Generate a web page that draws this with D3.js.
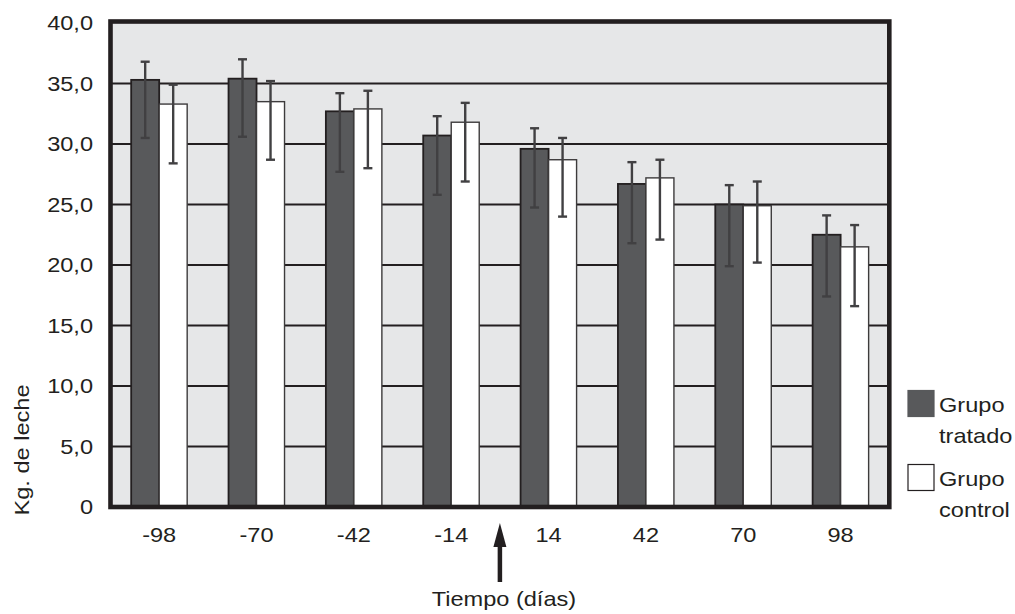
<!DOCTYPE html>
<html>
<head>
<meta charset="utf-8">
<script src="https://cdn.jsdelivr.net/npm/d3@7"></script>
<style>
  body { margin: 0; background: #fff; }
  svg text { font-family: "Liberation Sans", Arial, sans-serif; font-size: 20.5px; fill: #231f20; }
</style>
</head>
<body>
<div id="chart"></div>
<script>
"use strict"

// days relative to treatment
const days = ["-98", "-70", "-42", "-14", "14", "42", "70", "98"]
const series = ["tratado", "control"]

// Kg. de leche, mean and error bar ends
const tratado   = [35.3, 35.4, 32.7, 30.7, 29.6, 26.7, 25.0, 22.5]
const tratadoHi = [36.8, 37.0, 34.2, 32.3, 31.3, 28.5, 26.6, 24.1]
const tratadoLo = [30.5, 30.6, 27.7, 25.8, 24.75, 21.8, 19.9, 17.4]
const control   = [33.3, 33.5, 32.9, 31.8, 28.7, 27.2, 24.9, 21.5]
const controlHi = [34.9, 35.2, 34.4, 33.4, 30.5, 28.7, 26.9, 23.3]
const controlLo = [28.4, 28.7, 28.0, 26.9, 24.0, 22.1, 20.2, 16.6]

const yTicks = [0, 5, 10, 15, 20, 25, 30, 35, 40]
const legendLabels = [["Grupo", "tratado"], ["Grupo", "control"]]

const width = 1015, height = 614
const dark = "#231f20"
const fills = {tratado: "#58595b", control: "#ffffff"}
const stretchX = 1.15 // the original type is set wide

const data = days.map((d, i) => ({
  day: d,
  values: [
    {key: "tratado", v: tratado[i], lo: tratadoLo[i], hi: tratadoHi[i]},
    {key: "control", v: control[i], lo: controlLo[i], hi: controlHi[i]},
  ]
}))

// widen a text element around its own anchor point
function widen(sel) {
  sel.each(function() {
    const t = d3.select(this)
    const tx = +t.attr("x") || 0
    const ty = +t.attr("y") || 0
    t.attr("x", 0).attr("y", 0)
      .attr("transform", `translate(${tx},${ty}) scale(${stretchX},1)`)
  })
}

const x0 = d3.scaleBand().domain(days).range([110.5, 889.3])
const x1 = d3.scaleBand().domain(series)
  .range([x0.bandwidth() / 2 - 28, x0.bandwidth() / 2 + 28])
const y = d3.scaleLinear().domain([0, 40]).range([507, 23])

const svg = d3.select("#chart").append("svg")
  .attr("width", width)
  .attr("height", height)

const [xl, xr] = x0.range()

// plot background
svg.append("rect")
  .attr("x", xl).attr("y", y(40) - 1.5)
  .attr("width", xr - xl).attr("height", y(0) - y(40) + 1.5)
  .attr("fill", "#e6e7e8")

// grid lines
svg.append("g")
  .selectAll("line")
  .data(yTicks.filter(t => t > 0 && t < 40))
  .join("line")
    .attr("x1", xl).attr("x2", xr)
    .attr("y1", d => y(d)).attr("y2", d => y(d))
    .attr("stroke", dark)
    .attr("stroke-width", 2.2)

// bars
const groups = svg.append("g")
  .selectAll("g")
  .data(data)
  .join("g")
    .attr("transform", d => `translate(${x0(d.day)},0)`)

groups.selectAll("rect")
  .data(d => d.values)
  .join("rect")
    .attr("x", d => x1(d.key))
    .attr("y", d => y(d.v))
    .attr("width", x1.bandwidth())
    .attr("height", d => y(0) - y(d.v))
    .attr("fill", d => fills[d.key])
    .attr("stroke", d => d.key == "tratado" ? dark : "#3d3b3c")
    .attr("stroke-width", d => d.key == "tratado" ? 1.8 : 1.4)

// error bars
const eb = groups.selectAll("g.err")
  .data(d => d.values)
  .join("g")
    .attr("class", "err")
    .attr("stroke", "#414042")
    .attr("stroke-width", 2.4)

eb.append("line")
  .attr("x1", d => x1(d.key) + x1.bandwidth() / 2)
  .attr("x2", d => x1(d.key) + x1.bandwidth() / 2)
  .attr("y1", d => y(d.lo)).attr("y2", d => y(d.hi))
eb.selectAll("line.cap")
  .data(d => [d.lo, d.hi].map(v => ({key: d.key, v})))
  .join("line")
    .attr("class", "cap")
    .attr("x1", d => x1(d.key) + x1.bandwidth() / 2 - 4.5)
    .attr("x2", d => x1(d.key) + x1.bandwidth() / 2 + 4.5)
    .attr("y1", d => y(d.v)).attr("y2", d => y(d.v))

// frame
svg.append("rect")
  .attr("x", xl).attr("y", y(40) - 1.5)
  .attr("width", xr - xl).attr("height", y(0) - y(40) + 1.5)
  .attr("fill", "none")
  .attr("stroke", dark)
  .attr("stroke-width", 4.6)

// y axis
const fmt = d => d == 0 ? "0" : d3.format(".1f")(d).replace(".", ",")
svg.append("g")
  .attr("transform", `translate(${xl},0)`)
  .call(d3.axisLeft(y).tickValues(yTicks).tickFormat(fmt).tickSize(0).tickPadding(17.5))
  .call(g => g.select(".domain").remove())
  .call(g => g.selectAll("text").attr("font-size", null).attr("font-family", null).attr("fill", null)
    .attr("dy", null).attr("dominant-baseline", "central").call(widen))

// x axis
svg.append("g")
  .attr("transform", `translate(0,${y(0)})`)
  .call(d3.axisBottom(x0).tickSize(0).tickPadding(35))
  .call(g => g.select(".domain").remove())
  .call(g => g.selectAll("text").attr("font-size", null).attr("font-family", null).attr("fill", null)
    .attr("dy", null).call(widen))

// y title
svg.append("text")
  .attr("transform", `translate(29,450) rotate(-90) scale(${stretchX},1)`)
  .attr("text-anchor", "middle")
  .text("Kg. de leche")

// arrow marking treatment start
const ax = x0("14")
svg.append("line")
  .attr("x1", ax).attr("x2", ax)
  .attr("y1", 542).attr("y2", 582)
  .attr("stroke", dark)
  .attr("stroke-width", 4.5)
svg.append("path")
  .attr("d", `M${ax},523 L${ax - 6.5},547 L${ax + 6.5},547 Z`)
  .attr("fill", dark)

// x title
svg.append("text")
  .attr("x", ax + 4).attr("y", 606)
  .attr("text-anchor", "middle")
  .text("Tiempo (días)")
  .call(widen)

// legend
const legend = svg.append("g")
  .selectAll("g")
  .data(series)
  .join("g")
    .attr("transform", (d, i) => `translate(908,${390.5 + i * 74})`)

legend.append("rect")
  .attr("width", 26).attr("height", 26)
  .attr("fill", d => fills[d])
  .attr("stroke", d => d == "tratado" ? "#58595b" : dark)
  .attr("stroke-width", 1.2)

legend.each(function(d, i) {
  d3.select(this).selectAll("text")
    .data(legendLabels[i])
    .join("text")
      .attr("x", 31)
      .attr("y", (t, j) => 21 + j * 31)
      .text(t => t)
      .call(widen)
})
</script>
</body>
</html>
